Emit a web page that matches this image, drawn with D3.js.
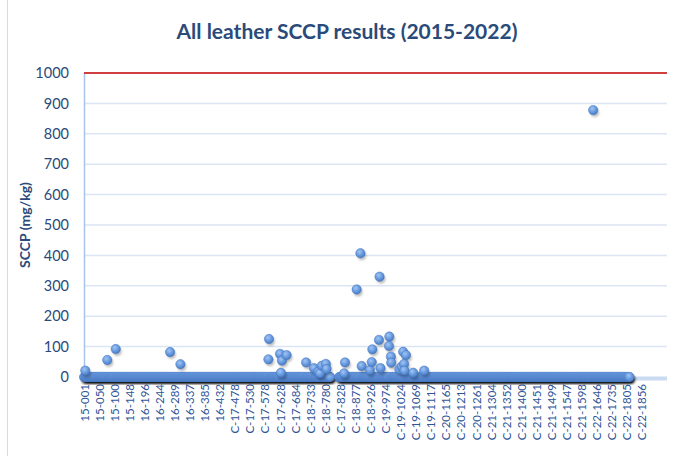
<!DOCTYPE html>
<html>
<head>
<meta charset="utf-8">
<script src="https://cdn.jsdelivr.net/npm/d3@7"></script>
<style>
  body { margin: 0; background: #fff; }
  text { font-family: Lato, "Open Sans", sans-serif; }
</style>
</head>
<body>
<script>
// x axis labels, one every labelStep samples
var categoryLabels = ["15-001","15-050","15-100","15-148","16-196","16-244","16-289","16-337","16-385","16-432",
  "C-17-478","C-17-530","C-17-578","C-17-628","C-17-684","C-18-733","C-18-780","C-17-828","C-18-877","C-18-926",
  "C-19-974","C-19-1024","C-19-1069","C-19-1117","C-20-1165","C-20-1213","C-20-1261","C-21-1304","C-21-1352","C-21-1400",
  "C-21-1451","C-21-1499","C-21-1547","C-21-1598","C-22-1646","C-22-1735","C-22-1805","C-22-1856"];
var labelStep = 48;
var sampleCount = 1856;

// sample index ranges that were tested (result 0 unless listed in the detects)
var testedRuns = [[0, 784], [812, 1737]];

// samples with a measured SCCP result (mg/kg)
var detectIndex = [4, 74, 101, 274, 307, 587, 589, 624, 627, 630, 645, 707, 732, 746, 751, 757, 770, 772,
  828, 831, 868, 880, 884, 910, 916, 918, 939, 941, 944, 971, 972, 977, 978, 1004, 1011, 1016, 1019, 1020,
  1025, 1048, 1083, 1621];
var detectValue = [21, 56, 92, 82, 42, 58, 125, 76, 14, 54, 72, 48, 29, 17, 12, 37, 43, 26,
  12, 48, 288, 407, 36, 23, 49, 91, 122, 330, 29, 102, 133, 67, 47, 25, 34, 83, 43, 21,
  72, 14, 21, 878];

var limitValue = 1000;
var yTicks = [0,100,200,300,400,500,600,700,800,900,1000];

var width = 678, height = 456;
var plotLeft = 84, plotRight = 667, plotTop = 73, plotBottom = 377;

var detectMap = new Map();
detectIndex.forEach(function(d, i) { detectMap.set(d, detectValue[i]); });

var points = [];
testedRuns.forEach(function(r) {
  for (var i = r[0]; i <= r[1]; i++) {
    points.push({ i: i, v: detectMap.has(i) ? detectMap.get(i) : 0 });
  }
});
detectIndex.forEach(function(d, k) {
  var inRun = testedRuns.some(function(r) { return d >= r[0] && d <= r[1]; });
  if (!inRun) points.push({ i: d, v: detectValue[k] });
});
var zeros = points.filter(function(d) { return d.v === 0; });
var hits = points.filter(function(d) { return d.v > 0; });

var x = d3.scaleLinear().domain([0, sampleCount]).range([plotLeft, plotRight]);
var y = d3.scaleLinear().domain([0, 1000]).range([plotBottom, plotTop]);

var svg = d3.select('body').append('svg')
  .attr('width', width)
  .attr('height', height);

var defs = svg.append('defs');
var grad = defs.append('radialGradient').attr('id', 'ball')
  .attr('cx', '40%').attr('cy', '35%').attr('r', '65%');
grad.append('stop').attr('offset', '0%').attr('stop-color', '#a3c5f2');
grad.append('stop').attr('offset', '55%').attr('stop-color', '#6a9ce2');
grad.append('stop').attr('offset', '100%').attr('stop-color', '#4a7cc4');
defs.append('filter').attr('id', 'blur')
  .attr('x', '-10%').attr('y', '-10%').attr('width', '120%').attr('height', '120%')
  .append('feGaussianBlur').attr('stdDeviation', 1.3);

// left border of the chart frame
svg.append('line')
  .attr('x1', 7.5).attr('x2', 7.5).attr('y1', 0).attr('y2', height)
  .attr('stroke', '#d9d9d9');

// title
svg.append('text')
  .attr('x', 347).attr('y', 39)
  .attr('text-anchor', 'middle')
  .attr('font-size', 21).attr('font-weight', 'bold')
  .attr('fill', '#2a4a7a')
  .text('All leather SCCP results (2015-2022)');

// gridlines
svg.append('g').selectAll('line').data(yTicks.filter(function(t) { return t > 0 && t < 1000; }))
  .enter().append('line')
  .attr('x1', plotLeft).attr('x2', plotRight)
  .attr('y1', function(d) { return y(d); }).attr('y2', function(d) { return y(d); })
  .attr('stroke', '#dbe5f3').attr('stroke-width', 1.5);

// y axis
var yAxis = d3.axisLeft(y).tickValues(yTicks).tickFormat(d3.format('d')).tickSize(0).tickPadding(15);
var yg = svg.append('g').attr('transform', 'translate(' + plotLeft + ',0)').call(yAxis);
yg.select('.domain').attr('stroke', '#a9c4eb').attr('stroke-width', 1.5);
yg.selectAll('text').attr('font-size', 14.5).attr('fill', '#2a4a7a').attr('font-family', 'Lato');

svg.append('text')
  .attr('transform', 'translate(30,' + 225 + ') rotate(-90)')
  .attr('text-anchor', 'middle')
  .attr('font-size', 14).attr('font-weight', 'bold')
  .attr('fill', '#2a4a7a')
  .text('SCCP (mg/kg)');

// x axis baseline
svg.append('line')
  .attr('x1', plotLeft).attr('x2', plotRight)
  .attr('y1', y(0) + 1.5).attr('y2', y(0) + 1.5)
  .attr('stroke', '#c9daf1').attr('stroke-width', 4);

// limit line
svg.append('line')
  .attr('x1', plotLeft).attr('x2', plotRight)
  .attr('y1', y(limitValue)).attr('y2', y(limitValue))
  .attr('stroke', '#c00000').attr('stroke-width', 1.5);

// x labels
var xAxis = d3.axisBottom(x)
  .tickValues(categoryLabels.map(function(d, i) { return i * labelStep; }))
  .tickFormat(function(d, i) { return categoryLabels[i]; })
  .tickSize(0);
var xg = svg.append('g').attr('transform', 'translate(0,' + plotBottom + ')').call(xAxis);
xg.select('.domain').remove();
xg.selectAll('text')
  .attr('font-size', 11.5).attr('fill', '#2f5597').attr('font-family', 'Lato')
  .attr('text-anchor', 'end')
  .attr('transform', 'rotate(-90)')
  .attr('x', -7).attr('y', 0).attr('dy', '0.35em');

function drawShadows(data, op) {
  svg.append('g').attr('filter', 'url(#blur)')
    .selectAll('circle').data(data).enter().append('circle')
    .attr('cx', function(d) { return x(d.i) + 1.5; })
    .attr('cy', function(d) { return y(d.v) + 2.5; })
    .attr('r', 4.5)
    .attr('fill', '#000').attr('fill-opacity', op);
}
function drawPoints(data, sw) {
  svg.append('g')
    .selectAll('circle').data(data).enter().append('circle')
    .attr('cx', function(d) { return x(d.i); })
    .attr('cy', function(d) { return y(d.v); })
    .attr('r', 4.7)
    .attr('fill', 'url(#ball)')
    .attr('stroke', '#4274bb').attr('stroke-width', sw).attr('stroke-opacity', 0.6);
}

drawShadows(zeros, 0.3);
drawPoints(zeros, 0.3);
drawShadows(hits, 0.25);
drawPoints(hits, 0.8);
</script>
</body>
</html>
